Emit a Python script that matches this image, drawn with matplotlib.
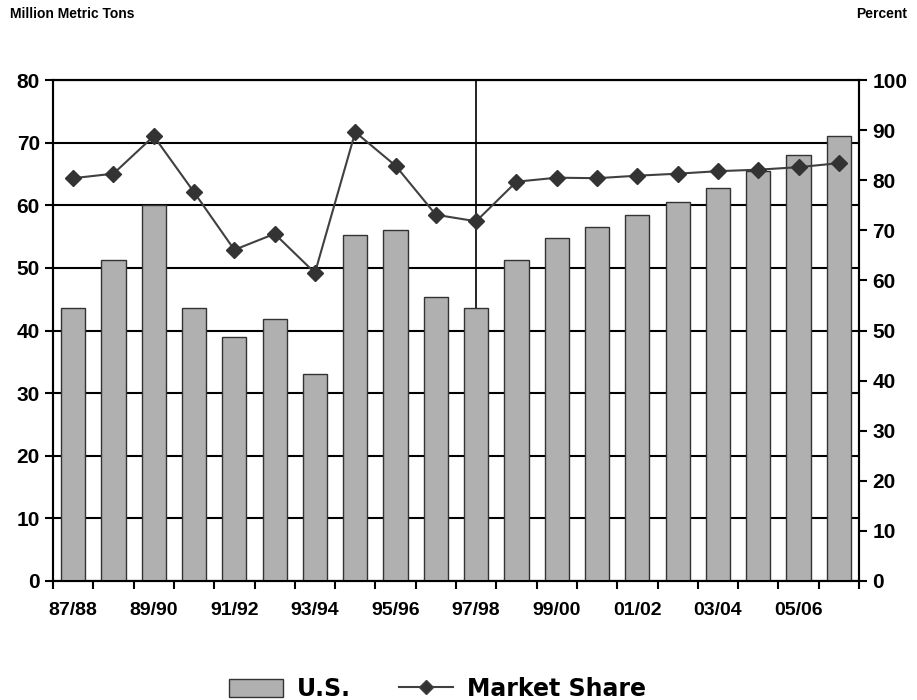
import numpy as np
import matplotlib
matplotlib.use("Agg")
import matplotlib.pyplot as plt
from matplotlib.patches import Patch
from matplotlib.lines import Line2D

plt.rcParams["font.family"] = ["Liberation Sans", "DejaVu Sans"]
plt.rcParams["font.weight"] = "bold"

seasons = ["87/88", "88/89", "89/90", "90/91", "91/92", "92/93", "93/94",
           "94/95", "95/96", "96/97", "97/98", "98/99", "99/00", "00/01",
           "01/02", "02/03", "03/04", "04/05", "05/06", "06/07"]
us_exports = [43.6, 51.2, 60.1, 43.6, 39.0, 41.9, 33.0, 55.2, 56.1, 45.3,
              43.6, 51.2, 54.8, 56.5, 58.4, 60.5, 62.7, 65.5, 68.1, 71.0]
market_share = [80.4, 81.3, 88.8, 77.6, 66.1, 69.3, 61.5, 89.6, 82.9, 73.1,
                71.8, 79.7, 80.5, 80.4, 80.9, 81.3, 81.8, 82.1, 82.6, 83.4]

x = np.arange(len(seasons))

fig = plt.figure(figsize=(9.17, 7.0), dpi=100)
ax = fig.add_axes([53 / 917, 1 - 581 / 700, (859 - 53) / 917, (581 - 80) / 700])
ax2 = ax.twinx()

ax.bar(x, us_exports, width=0.6, color="#b0b0b0", edgecolor="#333333",
       linewidth=1.0, zorder=3)
ax.set_ylim(0, 80)
ax.set_yticks(np.arange(0, 81, 10))
ax.grid(axis="y", color="black", linewidth=1.5, zorder=0)
ax.axvline(10, color="black", linewidth=1.2, zorder=1)
ax.set_xlim(-0.5, len(seasons) - 0.5)

ax.set_xticks(x[::2])
ax.set_xticklabels(seasons[::2])
ax.set_xticks(np.arange(-0.5, len(seasons), 1), minor=True)
ax.tick_params(axis="x", which="major", length=0, pad=15, labelsize=14)
ax.tick_params(axis="x", which="minor", length=6, width=1.5, direction="out")
ax.tick_params(axis="y", length=6, width=1.5, labelsize=15)

ax2.plot(x, market_share, color="#404040", linewidth=1.5, marker="D",
         markersize=8, markerfacecolor="#333333", markeredgecolor="#333333",
         zorder=5)
ax2.set_ylim(0, 100)
ax2.set_yticks(np.arange(0, 101, 10))
ax2.tick_params(axis="y", length=6, width=1.5, labelsize=15)

for a in (ax, ax2):
    for s in a.spines.values():
        s.set_linewidth(1.5)
ax.set_zorder(1)
ax2.set_zorder(2)
ax2.patch.set_visible(False)

fig.text(10 / 917, 1 - 14 / 700, "Million Metric Tons", fontsize=10,
         fontweight="bold", va="center", ha="left")
fig.text(907 / 917, 1 - 14 / 700, "Percent", fontsize=10,
         fontweight="bold", va="center", ha="right")

handles = [Patch(facecolor="#b0b0b0", edgecolor="#333333", label="U.S."),
           Line2D([0], [0], color="#404040", marker="D", markersize=7,
                  markerfacecolor="#333333", linewidth=1.5,
                  label="Market Share")]
fig.legend(handles=handles, loc="center", bbox_to_anchor=(0.477, 1 - 689 / 700),
           ncol=2, frameon=False, handlelength=2.3, handleheight=0.8,
           columnspacing=2.0, handletextpad=0.6,
           prop={"family": "DejaVu Sans", "weight": "bold", "size": 17})

fig.savefig("out.png", dpi=100)
